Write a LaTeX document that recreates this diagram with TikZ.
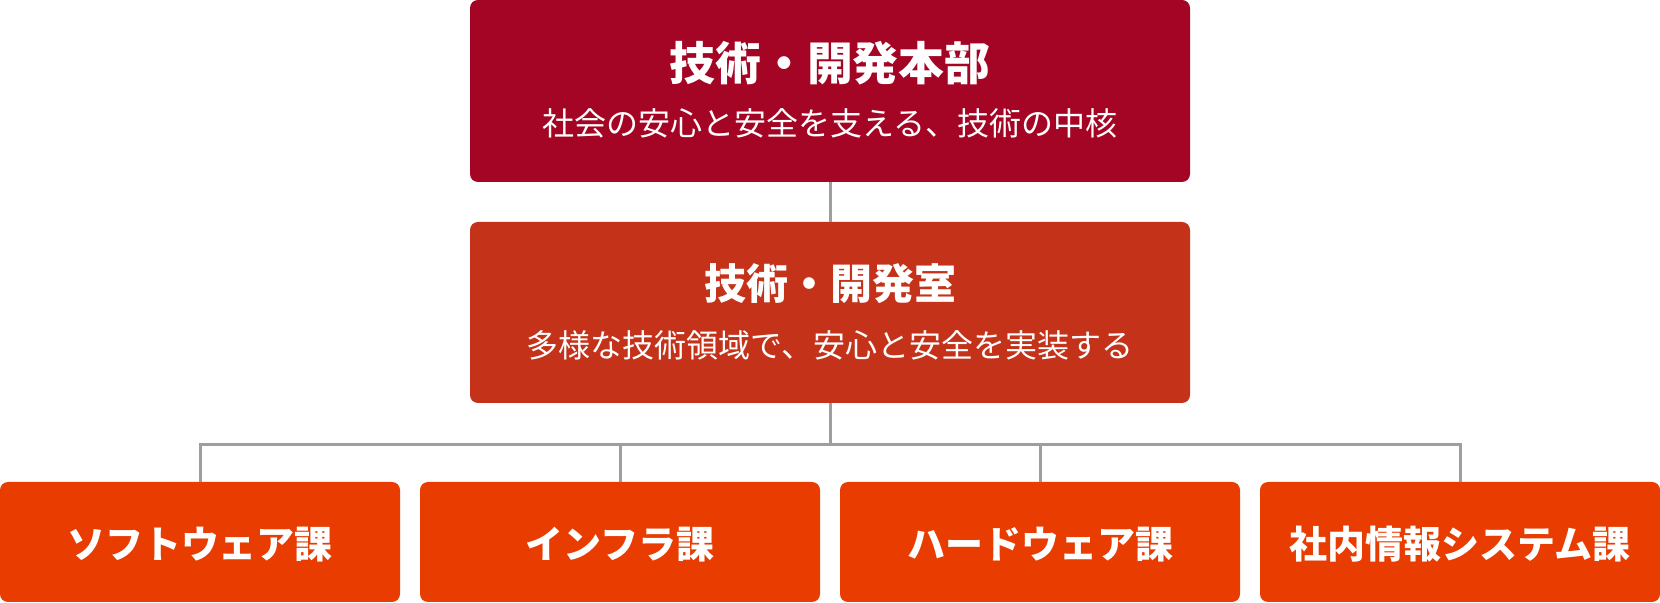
\documentclass[tikz,border=0pt]{standalone}
\usepackage{fontspec}
\setmainfont{Noto Sans CJK JP}
\definecolor{hqcol}{HTML}{A50524}
\definecolor{labcol}{HTML}{C4321A}
\definecolor{seccol}{HTML}{E83C00}
\definecolor{linecol}{HTML}{9E9E9E}
\tikzset{
  boxbase/.style={rectangle, rounded corners=4pt, inner sep=0pt, draw=none},
  hqbox/.style={boxbase, fill=hqcol, minimum width=360pt, minimum height=91pt},
  labbox/.style={boxbase, fill=labcol, minimum width=360pt, minimum height=90.5pt},
  secbox/.style={boxbase, fill=seccol, minimum width=200pt, minimum height=60pt},
  txt/.style={anchor=base, inner sep=0pt, text=white},
  bigtitle/.style={txt, font=\fontsize{22.9}{24}\selectfont\bfseries},
  midtitle/.style={txt, font=\fontsize{21}{24}\selectfont\bfseries},
  subtxt/.style={txt, font=\fontsize{16}{18}\selectfont},
  midsub/.style={txt, font=\fontsize{16}{18}\selectfont},
  sectxt/.style={txt, font=\fontsize{19}{20}\selectfont\bfseries},
  conn/.style={draw=linecol, line width=1.5pt}
}
\begin{document}
\begin{tikzpicture}[x=0.5pt,y=-0.5pt]
\useasboundingbox (0,0) rectangle (1660,603);
\coordinate (busy) at (0,445);
% boxes
\node[hqbox] (hq) at (830,91) {};
\node[labbox] (lab) at (830,312.5) {};
\node[secbox] (sw) at (200,542) {};
\node[secbox] (inf) at (620,542) {};
\node[secbox] (hw) at (1040,542) {};
\node[secbox] (is) at (1460,542) {};
% connectors
\draw[conn] (hq.south) -- (lab.north);
\draw[conn] (lab.south) -- (lab.south |- busy);
\draw[conn] (sw.north) |- (is.north |- busy) -- (is.north);
\draw[conn] (inf.north) -- (inf.north |- busy);
\draw[conn] (hw.north) -- (hw.north |- busy);
% texts
\node[bigtitle] (hqt) at (830,80.4) {技術・開発本部};
\node[subtxt] (hqs) at (830,135.2) {社会の安心と安全を支える、技術の中核};
\node[midtitle] (labt) at (830,300) {技術・開発室};
\node[midsub] (labs) at (830,358) {多様な技術領域で、安心と安全を実装する};
\node[sectxt] (swt) at (200,559) {ソフトウェア課};
\node[sectxt] (inft) at (620,559) {インフラ課};
\node[sectxt] (hwt) at (1040,559) {ハードウェア課};
\node[sectxt] (ist) at (1460,559) {社内情報システム課};
\end{tikzpicture}
\end{document}
